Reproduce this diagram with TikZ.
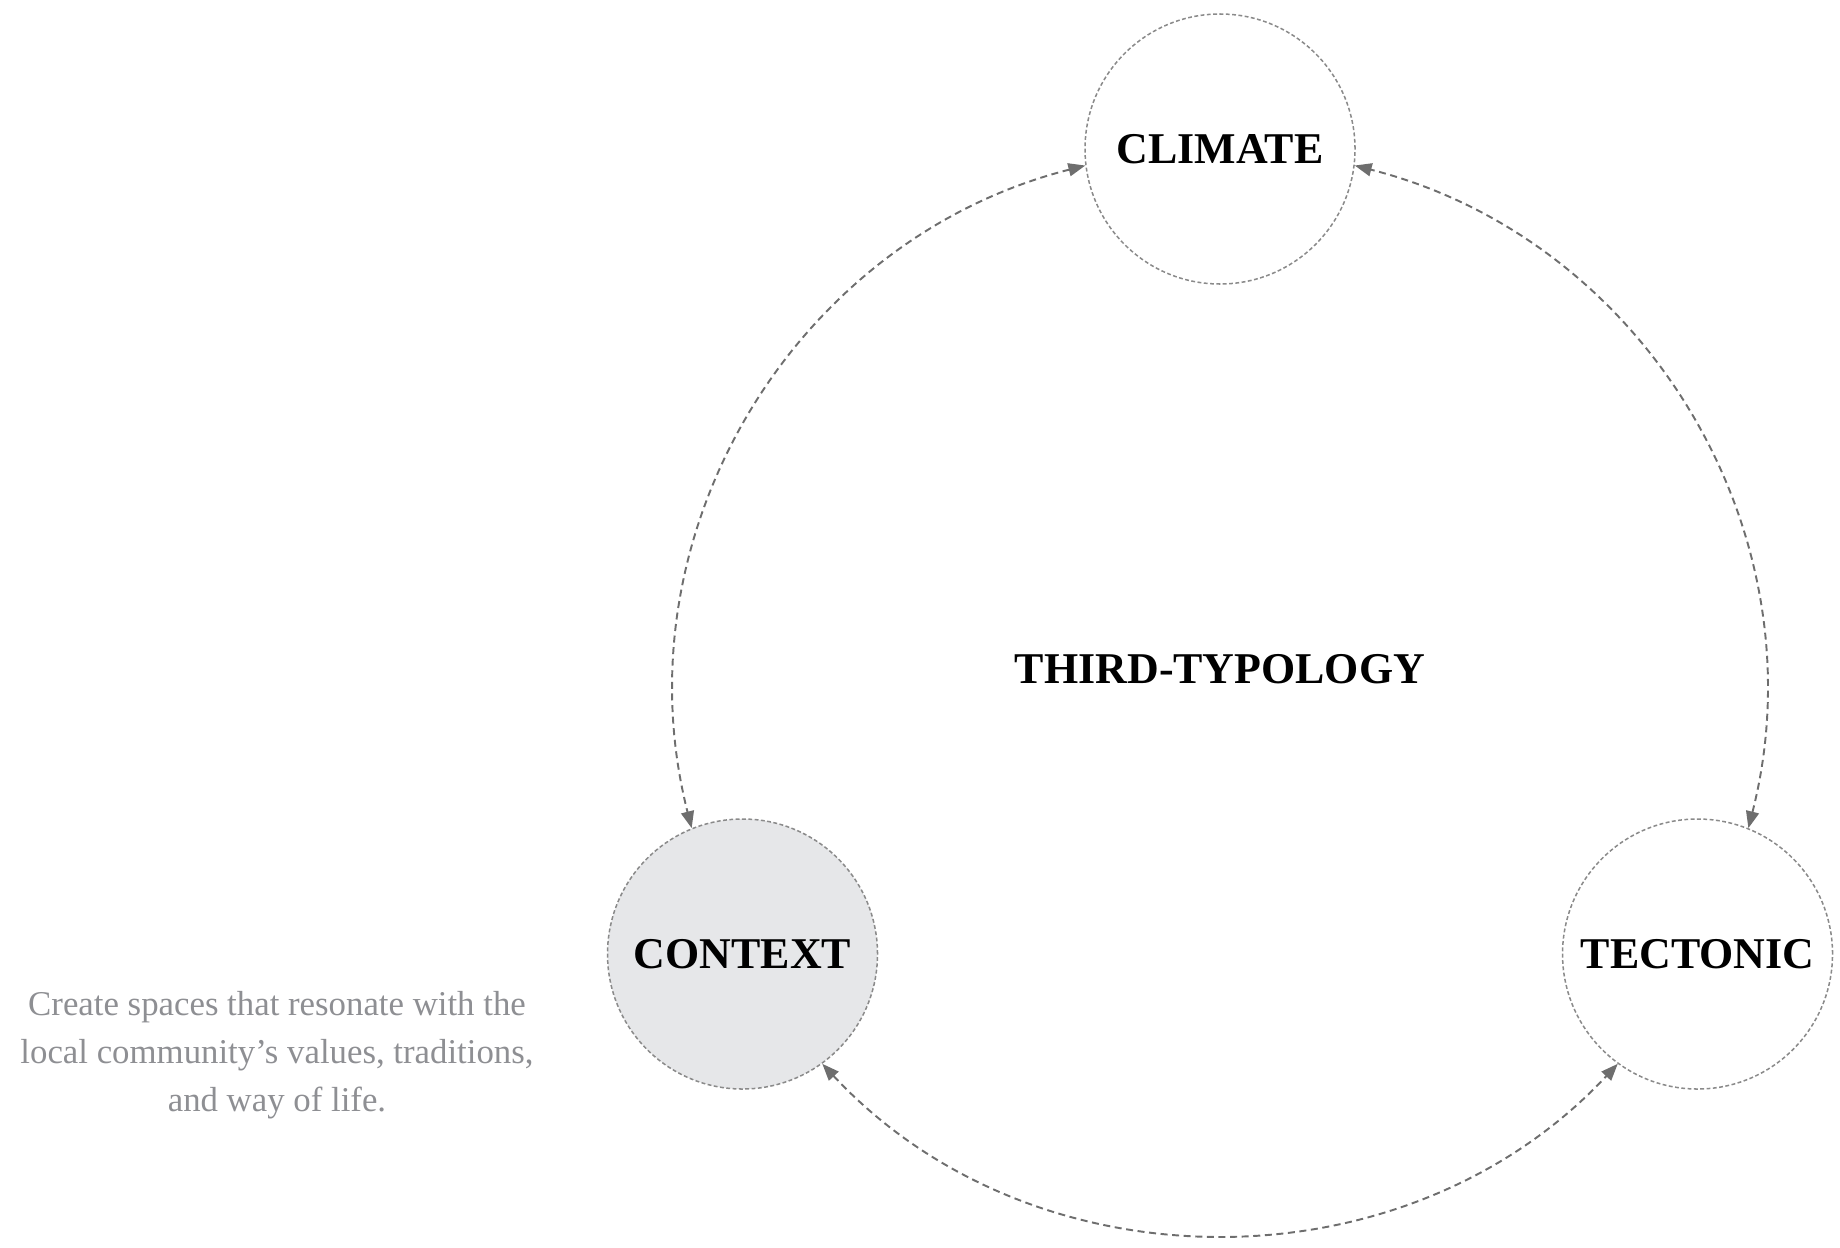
\documentclass[tikz,border=0pt]{standalone}
\usepackage{fontspec}
\setmainfont{Liberation Serif}
\usetikzlibrary{arrows.meta}
\definecolor{ringgray}{HTML}{8A8A8A}
\definecolor{arrowgray}{HTML}{6E6E6E}
\definecolor{fillgray}{HTML}{E6E7E9}
\definecolor{notegray}{HTML}{8E8F93}
\begin{document}
\begin{tikzpicture}[
    topic/.style={circle, draw=ringgray, line width=0.43pt, dash pattern=on 1.1pt off 0.7pt,
        minimum size=2.7cm, inner sep=0pt, font=\fontsize{12.5}{15}\selectfont\bfseries},
    link/.style={draw=arrowgray, line width=0.55pt, dash pattern=on 2pt off 1.3pt,
        {Triangle[length=4.8pt,width=3.7pt]}-{Triangle[length=4.8pt,width=3.7pt]}},
    note/.style={align=center, text=notegray, font=\fontsize{9.9}{13.6}\selectfont}]
    \useasboundingbox (0,0) rectangle (18.4,-12.47);
    % the three topics sit on one ring
    \node[topic] (climate) at (12.20,-1.49) {CLIMATE};
    \node[topic, fill=fillgray] (context) at (7.425,-9.54) {CONTEXT};
    \node[topic] (tectonic) at (16.975,-9.54) {TECTONIC};
    \node[font=\fontsize{12.5}{15}\selectfont\bfseries] (title) at (12.20,-6.69) {THIRD-TYPOLOGY};
    \node[note] (note) at (2.77,-10.55) {Create spaces that resonate with the\\local community’s values, traditions,\\and way of life.};
    % arcs between them
    \draw[link] (climate.187) to[bend right=45] (context.112);
    \draw[link] (context.306) to[bend right=47] (tectonic.234);
    \draw[link] (tectonic.68) to[bend right=45] (climate.353);
\end{tikzpicture}
\end{document}
